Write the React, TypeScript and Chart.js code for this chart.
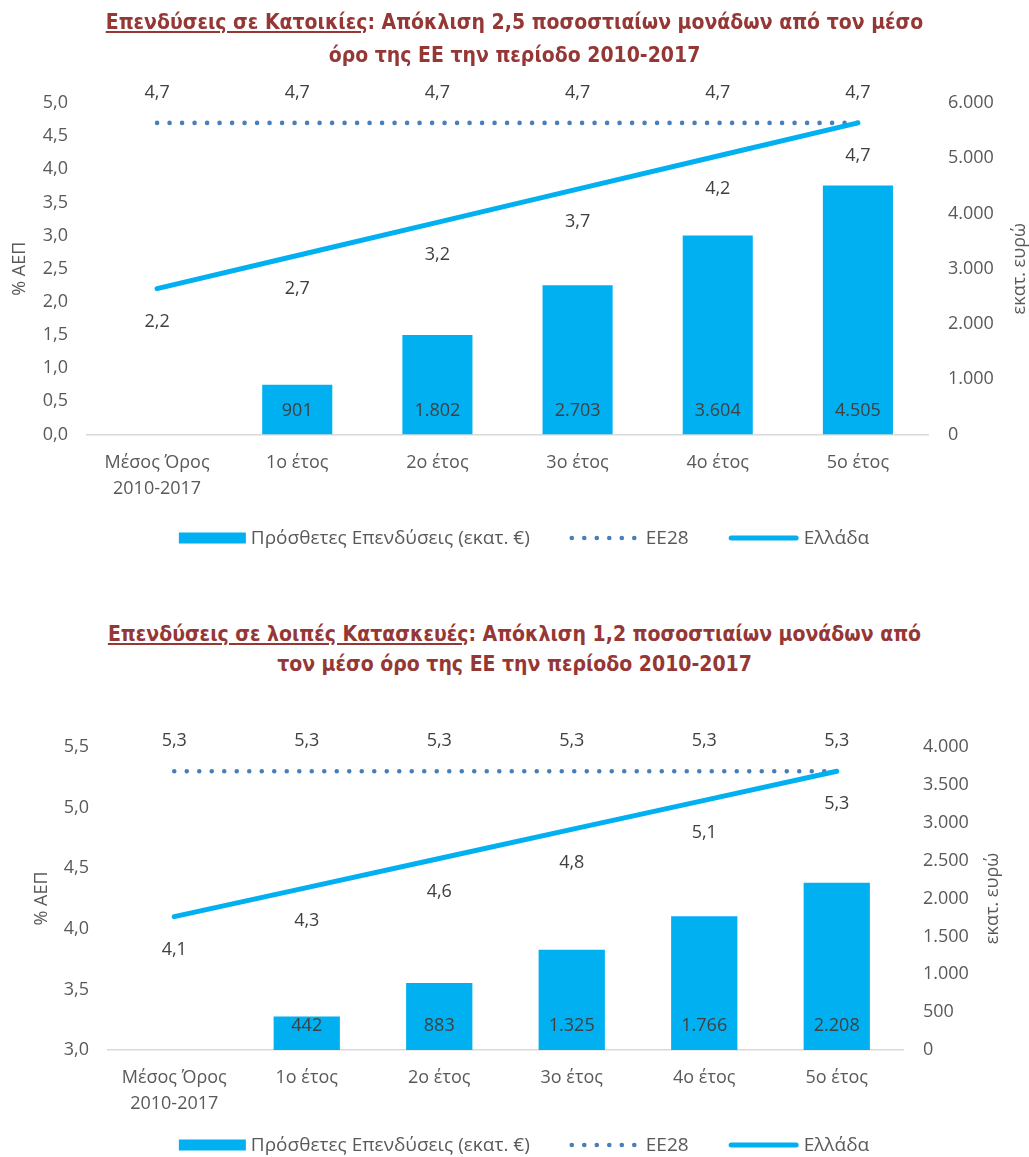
import React, { useEffect, useRef } from "react";
import { Chart, registerables } from "chart.js";

Chart.register(...registerables);

const FONT = "'Open Sans', 'Noto Sans', sans-serif";
const TITLE_FONT = "'DejaVu Sans Condensed', 'DejaVu Sans', sans-serif";
const TICK_COLOR = "#595959";
const LABEL_COLOR = "#404040";
const BAR_COLOR = "#00B0F0";
const EU_COLOR = "#4A7EBB";
const GR_COLOR = "#00B0F0";
const TITLE_COLOR = "#953735";

// ---------- data ----------
const categories: (string | string[])[] = [
  ["Μέσος Όρος", "2010-2017"],
  "1ο έτος",
  "2ο έτος",
  "3ο έτος",
  "4ο έτος",
  "5ο έτος",
];

const legendLabels = ["Πρόσθετες Επενδύσεις (εκατ. €)", "ΕΕ28", "Ελλάδα"];
const leftAxisTitle = "% ΑΕΠ";
const rightAxisTitle = "εκατ. ευρώ";

// Chart 1: housing
const housingInvestment: (number | null)[] = [null, 901, 1802, 2703, 3604, 4505];
const housingEU28 = [4.7, 4.7, 4.7, 4.7, 4.7, 4.7];
const housingGreece = [2.2, 2.7, 3.2, 3.7, 4.2, 4.7];
const housingLeftTicks = { min: 0, max: 5, step: 0.5 };
const housingRightTicks = { min: 0, max: 6000, step: 1000 };

// Chart 2: other construction
const otherInvestment: (number | null)[] = [null, 442, 883, 1325, 1766, 2208];
const otherEU28 = [5.3, 5.3, 5.3, 5.3, 5.3, 5.3];
const otherGreece = [4.1, 4.34, 4.58, 4.82, 5.06, 5.3];
const otherLeftTicks = { min: 3, max: 5.5, step: 0.5 };
const otherRightTicks = { min: 0, max: 4000, step: 500 };

// ---------- helpers ----------
const fmtDec = (v: number) => v.toFixed(1).replace(".", ",");
const fmtThousands = (v: number) =>
  Math.round(v)
    .toString()
    .replace(/\B(?=(\d{3})+(?!\d))/g, ".");

type Layout = {
  width: number;
  height: number;
  leftWidth: number;
  rightWidth: number;
  padTop: number;
  padBottom: number;
  xAxisHeight: number;
  legendY: number;
  legendCenterX: number;
  leftTitleX: number;
  rightTitleX: number;
};

type Props = {
  bars: (number | null)[];
  eu: number[];
  gr: number[];
  left: { min: number; max: number; step: number };
  right: { min: number; max: number; step: number };
  layout: Layout;
};

function ComboChart({ bars, eu, gr, left, right, layout }: Props) {
  const ref = useRef<HTMLCanvasElement | null>(null);

  useEffect(() => {
    const canvas = ref.current;
    if (!canvas) return;

    const dataLabelsPlugin = {
      id: "dataLabels",
      afterDatasetsDraw(chart: any) {
        const ctx = chart.ctx;
        ctx.save();
        ctx.font = `18px ${FONT}`;
        ctx.fillStyle = LABEL_COLOR;
        ctx.textAlign = "center";
        ctx.textBaseline = "middle";
        chart.data.datasets.forEach((ds: any, di: number) => {
          const meta = chart.getDatasetMeta(di);
          meta.data.forEach((el: any, i: number) => {
            const v = ds.data[i];
            if (v === null || v === undefined) return;
            if (ds.type === "bar") {
              ctx.fillText(fmtThousands(v), el.x, el.base - 24);
            } else if (ds.label === legendLabels[1]) {
              ctx.fillText(fmtDec(v), el.x, el.y - 30);
            } else {
              ctx.fillText(fmtDec(v), el.x, el.y + 33);
            }
          });
        });
        ctx.restore();
      },
    };

    const axisTitlesPlugin = {
      id: "axisTitles",
      afterDraw(chart: any) {
        const ctx = chart.ctx;
        const a = chart.chartArea;
        const cy = (a.top + a.bottom) / 2;
        ctx.save();
        ctx.font = `18px ${FONT}`;
        ctx.fillStyle = TICK_COLOR;
        ctx.textAlign = "center";
        ctx.textBaseline = "middle";
        [
          [layout.leftTitleX, leftAxisTitle],
          [layout.rightTitleX, rightAxisTitle],
        ].forEach(([x, t]) => {
          ctx.save();
          ctx.translate(x as number, cy);
          ctx.rotate(-Math.PI / 2);
          ctx.fillText(t as string, 0, 0);
          ctx.restore();
        });
        ctx.restore();
      },
    };

    const legendPlugin = {
      id: "customLegend",
      afterDraw(chart: any) {
        const ctx = chart.ctx;
        ctx.save();
        ctx.font = `19px ${FONT}`;
        ctx.textBaseline = "middle";
        ctx.textAlign = "left";
        const swW = [67, 66, 70];
        const gaps = [5, 10, 5];
        const itemGap = 40;
        const tw = legendLabels.map((l) => ctx.measureText(l).width);
        let total = 0;
        for (let i = 0; i < 3; i++) total += swW[i] + gaps[i] + tw[i];
        total += itemGap * 2;
        let x = layout.legendCenterX - total / 2;
        const y = layout.legendY;
        for (let i = 0; i < 3; i++) {
          if (i === 0) {
            ctx.fillStyle = BAR_COLOR;
            ctx.fillRect(x, y - 5.5, swW[0], 11);
          } else if (i === 1) {
            ctx.strokeStyle = EU_COLOR;
            ctx.lineWidth = 4.6;
            ctx.lineCap = "round";
            ctx.setLineDash([0, 12.5]);
            ctx.beginPath();
            ctx.moveTo(x + 2, y);
            ctx.lineTo(x + swW[1], y);
            ctx.stroke();
            ctx.setLineDash([]);
          } else {
            ctx.strokeStyle = GR_COLOR;
            ctx.lineWidth = 5;
            ctx.lineCap = "round";
            ctx.beginPath();
            ctx.moveTo(x + 2.5, y);
            ctx.lineTo(x + swW[2] - 2.5, y);
            ctx.stroke();
          }
          x += swW[i] + gaps[i];
          ctx.fillStyle = TICK_COLOR;
          ctx.fillText(legendLabels[i], x, y + 1);
          x += tw[i] + itemGap;
        }
        ctx.restore();
      },
    };

    const chart = new Chart(canvas, {
      type: "bar",
      data: {
        labels: categories as any,
        datasets: [
          {
            type: "line",
            label: legendLabels[2],
            data: gr,
            yAxisID: "yL",
            borderColor: GR_COLOR,
            borderWidth: 5,
            borderCapStyle: "round",
            pointRadius: 0,
            tension: 0,
            order: 1,
          } as any,
          {
            type: "line",
            label: legendLabels[1],
            data: eu,
            yAxisID: "yL",
            borderColor: EU_COLOR,
            borderWidth: 4.6,
            borderCapStyle: "round",
            borderDash: [0, 12.5],
            pointRadius: 0,
            tension: 0,
            order: 2,
          } as any,
          {
            type: "bar",
            label: legendLabels[0],
            data: bars,
            yAxisID: "yR",
            backgroundColor: BAR_COLOR,
            barPercentage: 0.5,
            categoryPercentage: 1,
            order: 3,
          } as any,
        ],
      },
      options: {
        responsive: false,
        animation: false,
        events: [],
        layout: {
          padding: { top: layout.padTop, bottom: layout.padBottom, left: 0, right: 0 },
        },
        plugins: {
          legend: { display: false },
          title: { display: false },
          tooltip: { enabled: false },
        },
        scales: {
          x: {
            grid: { display: false, drawTicks: false },
            border: { display: true, color: "#D9D9D9", width: 1.5 },
            ticks: {
              color: TICK_COLOR,
              font: { family: FONT, size: 18, lineHeight: 26 / 18 },
              padding: 15,
              maxRotation: 0,
              autoSkip: false,
            },
            afterFit: (s: any) => {
              s.height = layout.xAxisHeight;
            },
          },
          yL: {
            position: "left",
            min: left.min,
            max: left.max,
            grid: { display: false, drawTicks: false },
            border: { display: false },
            ticks: {
              stepSize: left.step,
              color: TICK_COLOR,
              font: { family: FONT, size: 18 },
              padding: 19,
              callback: (v: any) => fmtDec(Number(v)),
            },
            afterFit: (s: any) => {
              s.width = layout.leftWidth;
            },
          },
          yR: {
            position: "right",
            min: right.min,
            max: right.max,
            grid: { display: false, drawTicks: false },
            border: { display: false },
            ticks: {
              stepSize: right.step,
              color: TICK_COLOR,
              font: { family: FONT, size: 18 },
              padding: 20,
              callback: (v: any) => fmtThousands(Number(v)),
            },
            afterFit: (s: any) => {
              s.width = layout.rightWidth;
            },
          },
        },
      },
      plugins: [dataLabelsPlugin, axisTitlesPlugin, legendPlugin],
    });

    return () => chart.destroy();
  }, []);

  return (
    <canvas
      ref={ref}
      width={layout.width}
      height={layout.height}
      style={{ display: "block", width: layout.width, height: layout.height }}
    />
  );
}

const titleStyle: React.CSSProperties = {
  position: "absolute",
  left: 0,
  width: 1029,
  textAlign: "center",
  fontFamily: TITLE_FONT,
  fontStretch: "condensed",
  fontWeight: "bold",
  fontSize: 21,
  color: TITLE_COLOR,
};

export default function App() {
  return (
    <div
      style={{
        position: "absolute",
        left: 0,
        top: 0,
        width: 1029,
        height: 1157,
        background: "#fff",
        overflow: "hidden",
      }}
    >
      <div style={{ position: "absolute", left: 0, top: 0 }}>
        <ComboChart
          bars={housingInvestment}
          eu={housingEU28}
          gr={housingGreece}
          left={housingLeftTicks}
          right={housingRightTicks}
          layout={{
            width: 1029,
            height: 580,
            leftWidth: 87,
            rightWidth: 101,
            padTop: 103,
            padBottom: 65.5,
            xAxisHeight: 80,
            legendY: 538,
            legendCenterX: 524,
            leftTitleX: 20,
            rightTitleX: 1020,
          }}
        />
      </div>
      <div style={{ position: "absolute", left: 0, top: 690 }}>
        <ComboChart
          bars={otherInvestment}
          eu={otherEU28}
          gr={otherGreece}
          left={otherLeftTicks}
          right={otherRightTicks}
          layout={{
            width: 1029,
            height: 467,
            leftWidth: 108,
            rightWidth: 126,
            padTop: 57,
            padBottom: 27,
            xAxisHeight: 80,
            legendY: 455,
            legendCenterX: 524,
            leftTitleX: 42,
            rightTitleX: 993,
          }}
        />
      </div>
      <div style={{ ...titleStyle, top: 6, lineHeight: "33px" }}>
        <span style={{ textDecoration: "underline" }}>Επενδύσεις σε Κατοικίες</span>: Απόκλιση 2,5
        ποσοστιαίων μονάδων από τον μέσο
        <br />
        όρο της ΕΕ την περίοδο 2010-2017
      </div>
      <div style={{ ...titleStyle, top: 619, lineHeight: "30px" }}>
        <span style={{ textDecoration: "underline" }}>Επενδύσεις σε λοιπές Κατασκευές</span>: Απόκλιση
        1,2 ποσοστιαίων μονάδων από
        <br />
        τον μέσο όρο της ΕΕ την περίοδο 2010-2017
      </div>
    </div>
  );
}
